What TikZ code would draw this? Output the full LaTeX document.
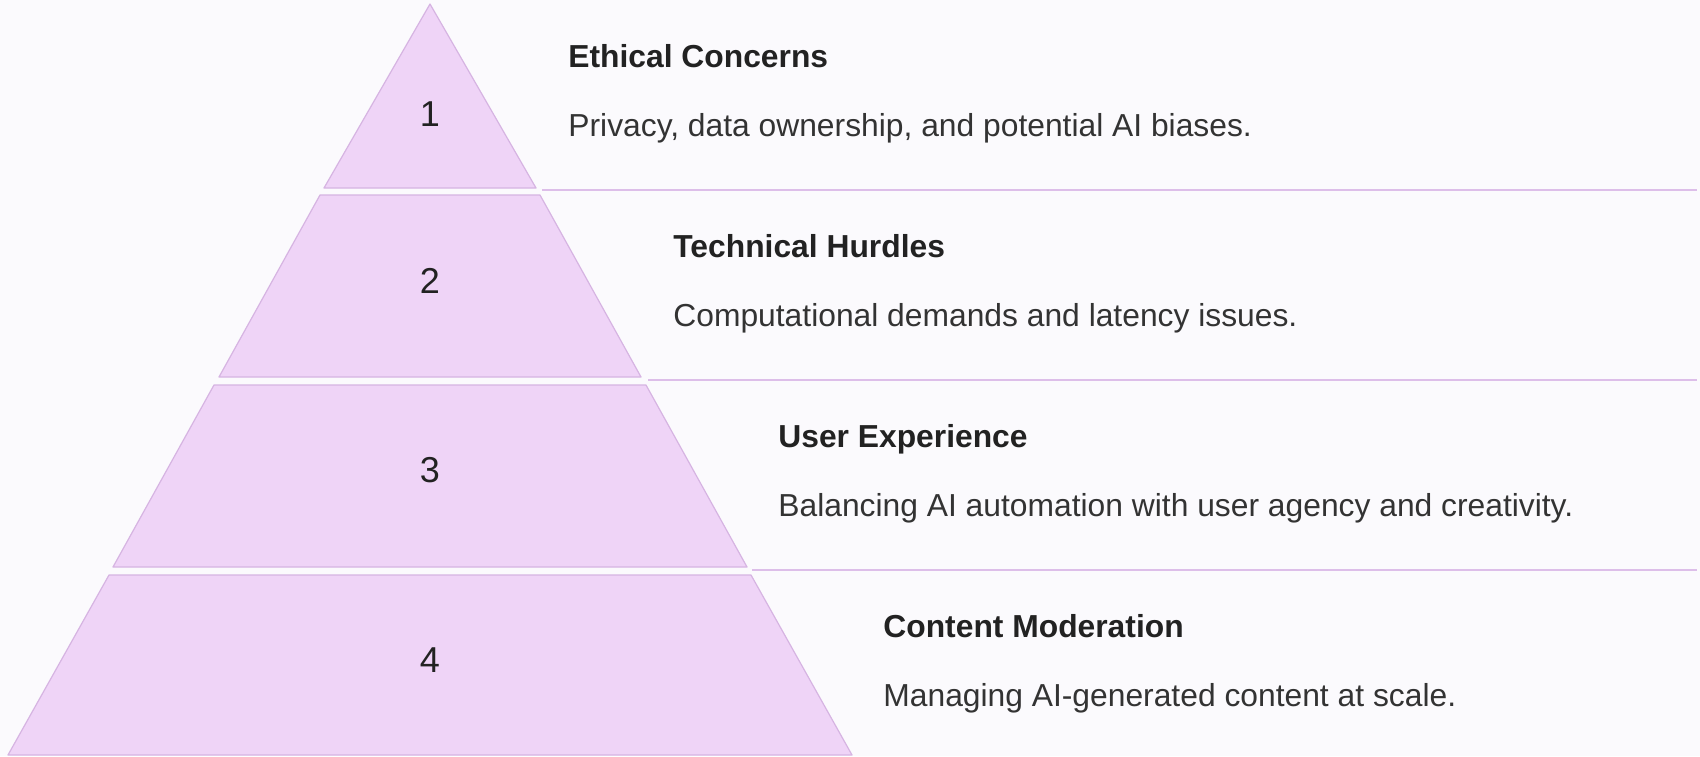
\documentclass[tikz,border=0pt]{standalone}
\usepackage{fontspec}
\setmainfont{Liberation Sans}
\definecolor{bandfill}{HTML}{EFD4F7}
\definecolor{bandedge}{HTML}{D6B4E2}
\definecolor{sepcol}{HTML}{DDBEE9}
\definecolor{titlecol}{HTML}{222222}
\definecolor{desccol}{HTML}{333333}
\definecolor{bgcol}{HTML}{FBFAFD}
\tikzset{
  band/.style={fill=bandfill, draw=bandedge, line width=0.6pt, line join=round},
  sepline/.style={draw=sepcol, line width=1pt},
  num/.style={font=\fontsize{18}{21}\selectfont, text=titlecol, anchor=base, inner sep=0pt},
  title/.style={font=\fontsize{15.9}{18}\selectfont\bfseries, text=titlecol, anchor=base west, inner sep=0pt},
  desc/.style={font=\fontsize{15.9}{18}\selectfont, text=desccol, anchor=base west, inner sep=0pt}
}
\begin{document}
\begin{tikzpicture}[x=0.5pt, y=-0.5pt]
\fill[bgcol] (0,0) rectangle (1700,756);
\useasboundingbox (0,0) rectangle (1700,756);

% pyramid
\draw[band] (430,4) -- (536,188) -- (324,188) -- cycle;
\draw[band] (320,195) -- (540,195) -- (641,377) -- (219,377) -- cycle;
\draw[band] (214,385) -- (646,385) -- (747,567) -- (113,567) -- cycle;
\draw[band] (109,575) -- (751,575) -- (852,755) -- (8,755) -- cycle;

\node[num] (n1) at (430,126) {1};
\node[num] (n2) at (430,293) {2};
\node[num] (n3) at (430,482) {3};
\node[num] (n4) at (430,672) {4};

% separators
\coordinate (s1l) at (542,190);
\coordinate (s1r) at (1697,190);
\coordinate (s2l) at (648,380);
\coordinate (s2r) at (1697,380);
\coordinate (s3l) at (752,570);
\coordinate (s3r) at (1697,570);
\draw[sepline] (s1l) -- (s1r);
\draw[sepline] (s2l) -- (s2r);
\draw[sepline] (s3l) -- (s3r);

% texts
\node[title] (t1) at (568,67) {Ethical Concerns};
\node[desc] (d1) at (568,136) {Privacy, data ownership, and potential AI biases.};
\node[title] (t2) at (673,257) {Technical Hurdles};
\node[desc] (d2) at (673,326) {Computational demands and latency issues.};
\node[title] (t3) at (778,447) {User Experience};
\node[desc] (d3) at (778,516) {Balancing AI automation with user agency and creativity.};
\node[title] (t4) at (883,637) {Content Moderation};
\node[desc] (d4) at (883,706) {Managing AI-generated content at scale.};
\end{tikzpicture}
\end{document}
